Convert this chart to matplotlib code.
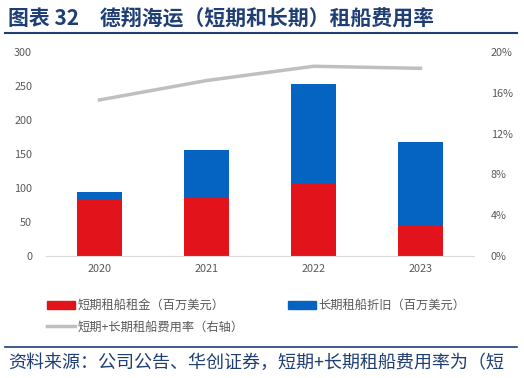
import matplotlib.pyplot as plt
from matplotlib.lines import Line2D
from matplotlib.patches import Patch

plt.rcParams['font.family'] = ['Noto Sans CJK SC', 'DejaVu Sans']

years = ['2020', '2021', '2022', '2023']
short_rent = [84, 87, 107, 44]
long_depr = [10, 69, 146, 124]
rate = [0.153, 0.172, 0.186, 0.184]

red = '#E3131B'
blue = '#0563C1'
gray = '#BFBFBF'
navy = '#1F3E74'
tick_c = '#595959'

fig = plt.figure(figsize=(5.24, 3.78), dpi=100)
W, H = 524, 378
ax = fig.add_axes([46 / W, 1 - 256 / H, 428 / W, 204 / H])
ax2 = ax.twinx()

x = range(len(years))
ax.bar(x, short_rent, width=0.42, color=red, zorder=2)
ax.bar(x, long_depr, width=0.42, bottom=short_rent, color=blue, zorder=2)
ax2.plot(x, rate, color=gray, lw=2.5, zorder=3)

ax.set_xlim(-0.5, 3.5)
ax.set_ylim(0, 300)
ax.set_yticks(range(0, 301, 50))
ax2.set_ylim(0, 0.2)
ax2.set_yticks([0, 0.04, 0.08, 0.12, 0.16, 0.2])
ax2.set_yticklabels(['0%', '4%', '8%', '12%', '16%', '20%'])
ax.set_xticks(list(x))
ax.set_xticklabels(years)

for a in (ax, ax2):
    for s in a.spines.values():
        s.set_visible(False)
    a.tick_params(length=0, labelsize=7.8, labelcolor=tick_c)
ax.spines['bottom'].set_visible(True)
ax.spines['bottom'].set_color('#D9D9D9')
ax.tick_params(axis='y', pad=10)
ax.tick_params(axis='x', pad=6)
ax2.tick_params(axis='y', pad=12)

# title
fig.text(8 / W, 1 - 18 / H, '图表 32\u3000德翔海运（短期和长期）租船费用率',
         fontsize=15, fontweight='bold', color=navy, va='center', ha='left')
fig.add_artist(Line2D([5 / W, 517 / W], [1 - 33 / H, 1 - 33 / H], color=navy, lw=1.5))

# legend (column-wise fill: red, gray | blue)
handles = [Patch(color=red), Line2D([0], [0], color=gray, lw=2.5), Patch(color=blue)]
labels = ['短期租船租金（百万美元）', '短期+长期租船费用率（右轴）', '长期租船折旧（百万美元）']
fig.legend(handles, labels, loc='upper left', bbox_to_anchor=(36 / W, 1 - 288 / H),
           ncol=2, frameon=False, fontsize=8.8, handlelength=2.3, handleheight=0.6,
           columnspacing=3.6, labelcolor=tick_c, handletextpad=0.2, labelspacing=0.7)

# footer
fig.add_artist(Line2D([5 / W, 517 / W], [1 - 347 / H, 1 - 347 / H], color=navy, lw=1.2))
fig.text(8 / W, 1 - 363 / H, '资料来源：公司公告、华创证券，短期+长期租船费用率为（短',
         fontsize=13, color=navy, style='italic', va='center', ha='left')

fig.savefig('out.png', dpi=100)
